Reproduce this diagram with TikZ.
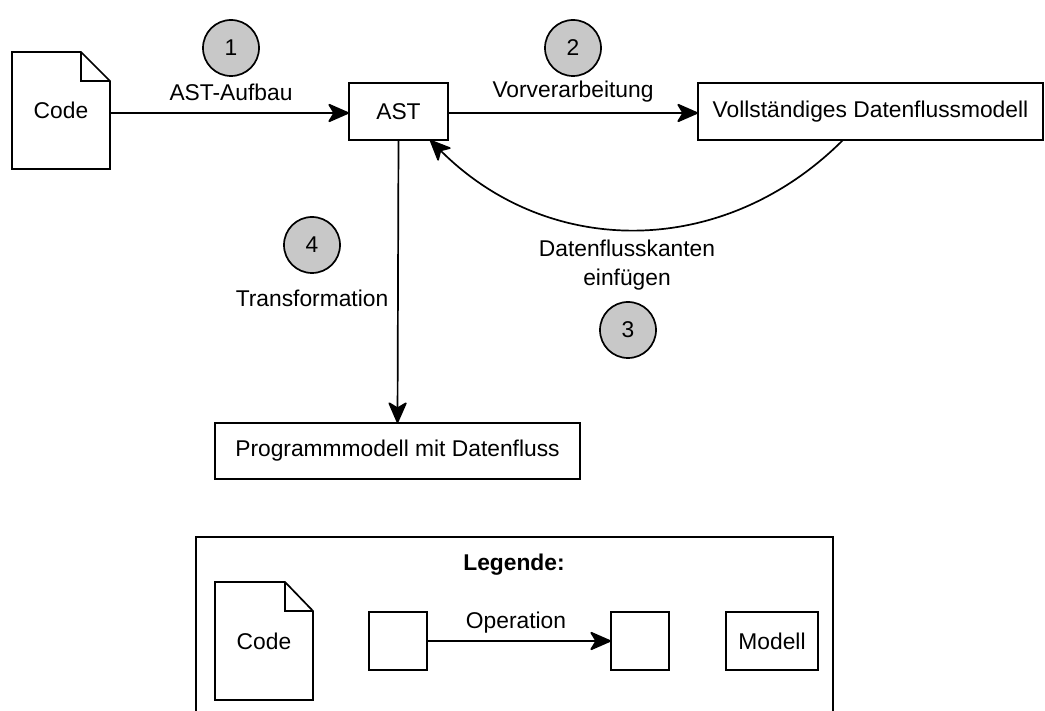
\documentclass[tikz,border=0pt]{standalone}
\usepackage{fontspec}
\setmainfont{Liberation Sans}
\usetikzlibrary{arrows.meta}
\definecolor{stepgray}{RGB}{200,200,200}
\begin{document}
\begin{tikzpicture}[x=1pt,y=-1pt,
  every node/.style={font=\fontsize{22.8}{27}\selectfont, inner sep=0pt, outer sep=0pt},
  box/.style={draw, line width=1.7pt, fill=white},
  line/.style={line width=1.7pt},
  arr/.style={line width=1.7pt, -{Stealth[length=23pt,width=20pt,inset=6pt,round]}},
  stepcircle/.style={draw, line width=1.7pt, fill=stepgray, circle, minimum size=56pt},
  lbl/.style={align=center}]
\clip (0,0) rectangle (1045,711);
\fill[white] (0,0) rectangle (1045,711);

% main code document
\node[minimum width=98pt, minimum height=117pt] (code) at (61,110.5) {Code};
\draw[line, line join=miter] (code.north west) -- ([xshift=-29pt]code.north east) -- ([yshift=-29pt]code.north east) -- (code.south east) -- (code.south west) -- cycle;
\draw[line] ([xshift=-29pt]code.north east) -- ([xshift=-29pt,yshift=-29pt]code.north east) -- ([yshift=-29pt]code.north east);

% boxes
\node[box, minimum width=99pt, minimum height=57pt] (ast) at (398.5,111.5) {AST};
\node[box, minimum width=345pt, minimum height=57pt] (voll) at (870.5,111.5) {Vollständiges Datenflussmodell};
\node[box, minimum width=365pt, minimum height=56pt] (prog) at (397.5,451) {Programmmodell mit Datenfluss};

% arrows
\draw[arr] (code.east |- 0,113) -- (ast.west |- 0,113);
\draw[arr] (ast.east |- 0,113) -- (voll.west |- 0,113);
\draw[arr] ([xshift=-27.5pt]voll.south) .. controls +(-119,119) and +(119,119) .. ([xshift=-18pt]ast.south east);
\draw[arr] (ast.south) -- (prog.north);

% labels
\node (l1) at (231,92) {AST-Aufbau};
\node (l2) at (573,92) {Vorverarbeitung};
\node[lbl] (l3) at (627,265) {Datenflusskanten\\[2pt]einfügen};
\node (l4) at (312,298) {Transformation};

% step circles
\node[stepcircle] (c1) at (231,48) {1};
\node[stepcircle] (c2) at (573,48) {2};
\node[stepcircle] (c3) at (628,330) {3};
\node[stepcircle] (c4) at (312,245) {4};

% legend
\node[draw, line width=1.7pt, minimum width=637pt, minimum height=200pt, anchor=north west] (legend) at (196,537) {};
\node[font=\fontsize{22.8}{27}\selectfont\bfseries] (legtitle) at (514,565) {Legende:};
\node[minimum width=98pt, minimum height=118pt] (lcode) at (264,641) {Code};
\draw[line, line join=miter] (lcode.north west) -- ([xshift=-28pt]lcode.north east) -- ([yshift=-29pt]lcode.north east) -- (lcode.south east) -- (lcode.south west) -- cycle;
\draw[line] ([xshift=-28pt]lcode.north east) -- ([xshift=-28pt,yshift=-29pt]lcode.north east) -- ([yshift=-29pt]lcode.north east);
\node[box, minimum width=58pt, minimum height=58pt] (sq1) at (398,641) {};
\node[box, minimum width=58pt, minimum height=58pt] (sq2) at (640,641) {};
\node[box, minimum width=92pt, minimum height=58pt] (modell) at (772,641) {Modell};
\draw[arr] (sq1) -- (sq2);
\node (oplbl) at (516,623) {Operation};
\end{tikzpicture}
\end{document}
